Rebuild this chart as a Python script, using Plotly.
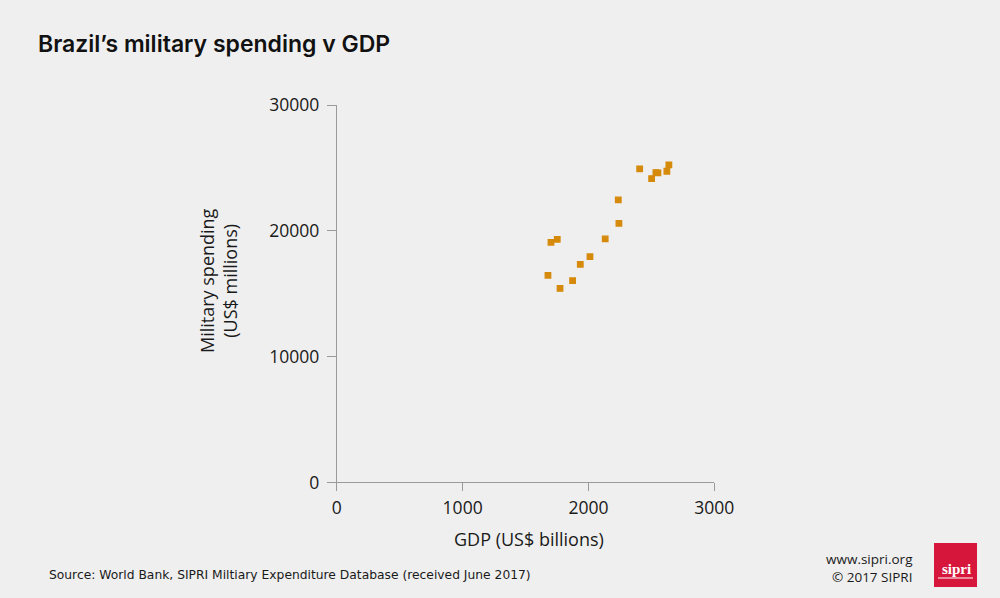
import plotly.graph_objects as go

# Data (GDP in US$ billions, military spending in US$ millions)
gdp = [2407, 2536, 2552, 2502, 2639, 2623, 2237, 2242, 2133, 1752, 1702, 2012, 1935, 1678, 1874, 1774]
milex = [24925, 24630, 24606, 24152, 25243, 24733, 22457, 20595, 19354, 19322, 19083, 17945, 17333, 16457, 16035, 15423]

x_ticks = [0, 1000, 2000, 3000]
y_ticks = [0, 10000, 20000, 30000]

title_text = "Brazil\u2019s military spending v GDP"
x_title = "GDP (US$ billions)"
y_title = "Military spending<br>(US$ millions)"
source_text = "Source: World Bank, SIPRI Miltiary Expenditure Database (received June 2017)"

BG = "#efefef"
AXIS = "#9a9a9a"
TXT = "#1a1a1a"
MARK = "#d68a0b"
FONT = "Open Sans"

W, H = 1000, 598
x0, x1 = 336.8, 714.3
y0, y1 = 482.4, 105.0

fig = go.Figure()
fig.add_trace(go.Scatter(
    x=gdp, y=milex, mode="markers",
    marker=dict(symbol="square", size=5.5, color=MARK, line=dict(color=MARK, width=1.3)),
    hoverinfo="x+y", showlegend=False,
))

fig.update_layout(
    width=W, height=H, autosize=False,
    paper_bgcolor=BG, plot_bgcolor=BG,
    margin=dict(l=0, r=0, t=0, b=0, pad=0, autoexpand=False),
    font=dict(family=FONT, color=TXT),
    xaxis=dict(
        domain=[x0 / W, x1 / W], range=[0, 3000], automargin=False,
        tickvals=x_ticks, ticktext=[str(v) for v in x_ticks],
        showgrid=False, zeroline=False,
        showline=True, linecolor=AXIS, linewidth=1,
        ticks="outside", ticklen=8, tickcolor=AXIS, tickwidth=1,
        tickfont=dict(size=17.5, color=TXT, family=FONT),
        ticklabelstandoff=2,
    ),
    yaxis=dict(
        domain=[(H - y0) / H, (H - y1) / H], range=[0, 30000], automargin=False,
        tickvals=y_ticks, ticktext=[str(v) for v in y_ticks],
        showgrid=False, zeroline=False,
        showline=True, linecolor=AXIS, linewidth=1,
        ticks="outside", ticklen=9, tickcolor=AXIS, tickwidth=1,
        tickfont=dict(size=17.5, color=TXT, family=FONT),
        ticklabelstandoff=4,
    ),
    annotations=[
        dict(text=title_text, xref="paper", yref="paper",
             x=36 / W, y=1 - 44 / H, xanchor="left", yanchor="middle",
             showarrow=False, font=dict(family="Inter", size=23, weight=600, color="#111")),
        dict(text=x_title, xref="paper", yref="paper",
             x=529 / W, y=1 - 539 / H, xanchor="center", yanchor="middle",
             showarrow=False, font=dict(family=FONT, size=18, color=TXT)),
        dict(text=y_title, xref="paper", yref="paper",
             x=218 / W, y=1 - 281 / H, xanchor="center", yanchor="middle",
             textangle=-90, showarrow=False,
             font=dict(family=FONT, size=18, color=TXT)),
        dict(text=source_text, xref="paper", yref="paper",
             x=47 / W, y=1 - 575 / H, xanchor="left", yanchor="middle",
             showarrow=False, font=dict(family="DejaVu Sans", size=12.3, color=TXT)),
        dict(text="www.sipri.org<br>\u00a9 2017 SIPRI", xref="paper", yref="paper",
             x=915 / W, y=1 - 568 / H, xanchor="right", yanchor="middle", align="right",
             showarrow=False, font=dict(family=FONT, size=13.5, color=TXT)),
        dict(text="<b>sipri</b>", xref="paper", yref="paper",
             x=956 / W, y=1 - 569 / H, xanchor="center", yanchor="middle",
             showarrow=False, font=dict(family="Liberation Serif", size=15, color="white")),
    ],
    shapes=[
        dict(type="rect", xref="paper", yref="paper",
             x0=934 / W, x1=977 / W, y0=1 - 587 / H, y1=1 - 543 / H,
             fillcolor="#d7163c", line=dict(width=0), layer="below"),
        dict(type="line", xref="paper", yref="paper",
             x0=938 / W, x1=973 / W, y0=1 - 578 / H, y1=1 - 578 / H,
             line=dict(color="white", width=1)),
    ],
)

post = ("document.documentElement.style.margin='0';"
        "document.body.style.margin='0';document.body.style.padding='0';"
        "document.body.style.overflow='hidden';")

fig.write_html("out.html", config={"responsive": False, "displayModeBar": False}, post_script=post)
